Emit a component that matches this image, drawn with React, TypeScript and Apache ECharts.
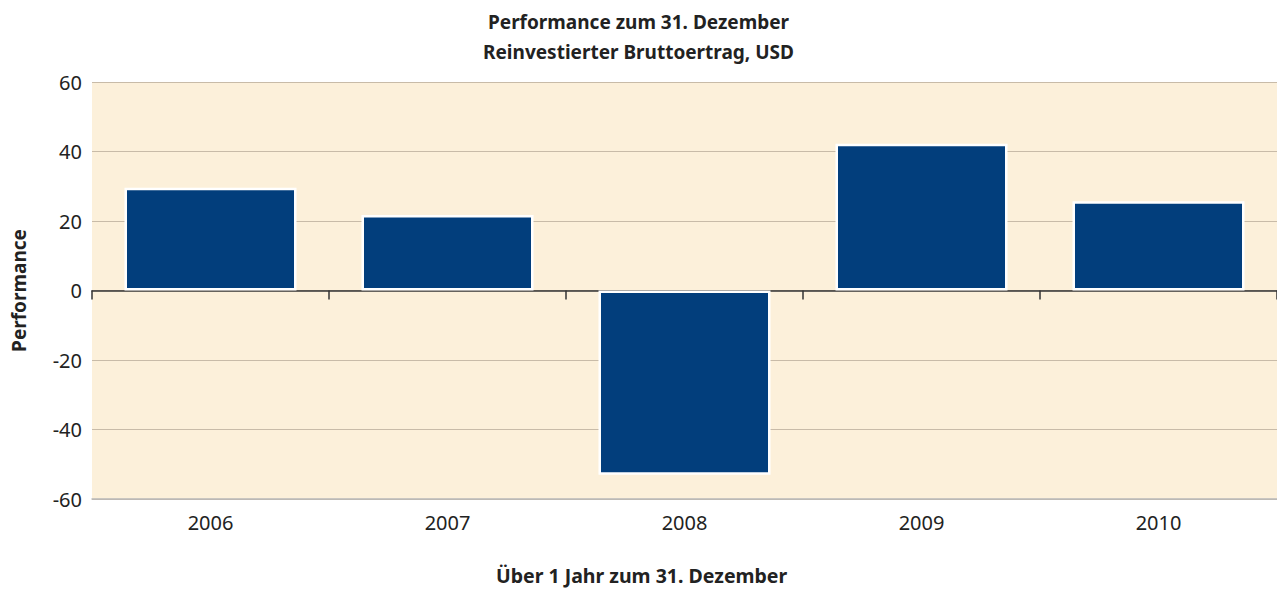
import React, { useEffect, useRef } from "react";
import * as echarts from "echarts";

const categories = ["2006", "2007", "2008", "2009", "2010"];
const performance = [29.6, 21.7, -53.0, 42.2, 25.7];
const yTicks = { min: -60, max: 60, interval: 20 };
const titleLines = ["Performance zum 31. Dezember", "Reinvestierter Bruttoertrag, USD"];
const xName = "Über 1 Jahr zum 31. Dezember";
const yName = "Performance";

export default function App() {
  const ref = useRef<HTMLDivElement>(null);
  useEffect(() => {
    document.body.style.margin = "0";
    const chart = echarts.init(ref.current!, undefined, { renderer: "svg" });
    const font = "'Noto Sans', 'Open Sans', sans-serif";
    chart.setOption({
      animation: false,
      textStyle: { fontFamily: font },
      title: [
        {
          text: titleLines.join("\n"),
          left: "center",
          top: 2,
          textStyle: { fontSize: 19, fontWeight: "bold", color: "#222", lineHeight: 30, fontFamily: font },
        },
        {
          text: xName,
          left: 491,
          top: 560,
          textStyle: { fontSize: 19.5, fontWeight: "bold", color: "#222", fontFamily: font },
        },
      ],
      grid: {
        left: 92,
        right: 0,
        top: 82,
        bottom: 90,
        show: true,
        backgroundColor: "#fcf0da",
        borderWidth: 0,
        outerBoundsMode: "none",
        containLabel: false,
      },
      xAxis: [
        {
          type: "category",
          data: categories,
          position: "bottom",
          axisLine: { onZero: false, lineStyle: { color: "#b8b8b8", width: 1.5 } },
          axisTick: { show: false },
          axisLabel: { fontSize: 20, color: "#222", margin: 13, fontFamily: font },
        },
        {
          type: "category",
          data: categories,
          position: "bottom",
          axisLine: { onZero: true, lineStyle: { color: "#333", width: 1.5 } },
          axisTick: { show: true, length: 9, lineStyle: { color: "#333", width: 1.5 } },
          axisLabel: { show: false },
        },
      ],
      yAxis: {
        type: "value",
        min: yTicks.min,
        max: yTicks.max,
        interval: yTicks.interval,
        name: yName,
        nameLocation: "middle",
        nameGap: 64,
        nameTextStyle: { fontSize: 19, fontWeight: "bold", color: "#222", fontFamily: font },
        axisLine: { show: false },
        axisTick: { show: false },
        axisLabel: { fontSize: 20, color: "#222", margin: 10, fontFamily: font },
        splitLine: { lineStyle: { color: "#c8bba8", width: 1.2 } },
      },
      series: [
        {
          type: "bar",
          data: performance,
          xAxisIndex: 0,
          barWidth: 172,
          itemStyle: { color: "#023e7c", borderColor: "#ffffff", borderWidth: 2.5 },
        },
      ],
    });
    return () => chart.dispose();
  }, []);
  return <div ref={ref} style={{ width: 1277, height: 589 }} />;
}
